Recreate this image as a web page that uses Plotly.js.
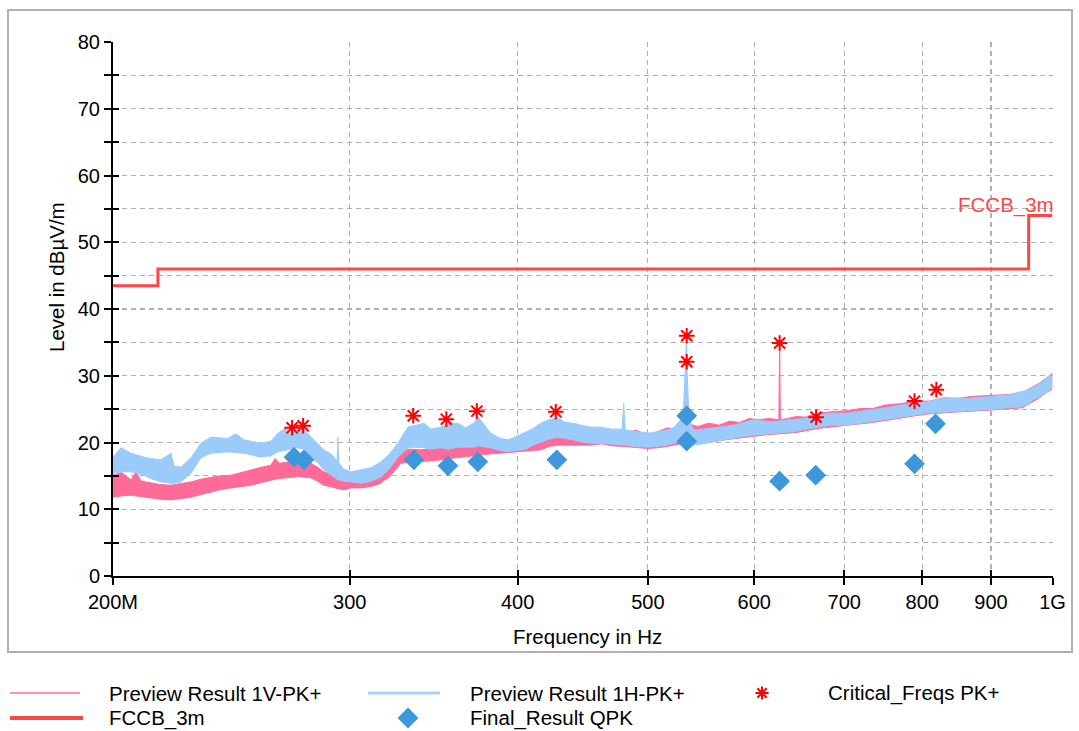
<!DOCTYPE html>
<html><head><meta charset="utf-8">
<script src="https://cdn.plot.ly/plotly-3.0.1.min.js"></script>
<style>html,body{margin:0;padding:0;background:#fff;}#chart{width:1079px;height:731px;}</style>
</head><body><div id="chart"></div>
<script>
// ---- Data (MHz, dBµV/m) ----
// Preview Result 1H-PK+ (band: upper / lower envelope)
const freqH = [200,202.8,206.3,210.9,213.4,217.1,220.9,222,224.7,228.6,232.5,236.5,243.5,246.8,250.3,257.7,262.1,265.3,268.5,271.3,272.7,277.4,280.7,284,287,291,293.6,294,294.4,297,300.6,305.8,311,316.5,321,325.8,331.4,335,340.6,345,350.7,355,361,366,371.1,374,382,388.6,393.3,398,404.2,410,416.2,422,428.5,434,440.4,445.7,453.4,461.2,470,478.5,479.7,481,490,499.9,508,517.3,523,528.9,531.5,532.8,533.9,534.3,534.8,536.2,538.5,540.8,550,559.7,569,579.2,589,599.4,610,620.2,630,641.8,653,664.2,673,683.8,704,720,736,752,770.9,789,807.3,825,844.1,863,884,905,925.9,946.7,957,968,982,996.6,1000];
const hiH   = [17.8,19.2,18.4,17.8,17.6,17.4,18.4,16.5,16.3,17.7,19.9,20.8,20.6,21.3,20.4,19.9,20.2,21.4,22.1,21.3,21.6,22.0,20.8,19.8,18.9,18.2,17.2,20.8,17.0,16.0,15.6,15.9,16.2,17.1,18.2,19.9,22.3,22.5,22.9,22.0,22.3,22.8,22.9,22.2,22.9,23.8,21.4,20.6,20.4,20.8,21.4,22.0,22.9,23.4,23.7,23.0,22.9,22.6,22.3,22.3,22.0,22.0,25.9,21.9,21.6,21.4,21.6,21.9,22.3,23.4,25.0,30.4,35.6,36.0,30.4,25.0,22.6,21.9,22.0,22.2,22.4,22.6,23.0,23.4,23.2,23.1,23.3,23.4,23.6,23.8,24.2,24.4,24.4,24.7,24.9,25.2,25.6,25.8,26.1,26.5,26.7,26.6,26.8,27.0,27.1,27.6,27.8,28.3,29.0,30.1,30.0];
const loH   = [15.4,15.6,15.6,15.1,14.6,14.1,13.9,13.9,14.1,15.4,17.7,18.4,18.6,18.5,18.4,17.8,18.0,18.6,18.8,19.0,19.3,19.0,17.8,17.0,15.9,15.0,14.5,14.4,14.4,14.2,14.1,13.9,14.2,14.8,16.0,17.8,19.2,19.3,19.2,19.0,19.2,19.0,19.3,19.3,19.3,19.5,19.2,18.8,18.6,18.8,18.9,19.5,20.1,20.5,20.8,20.6,20.4,20.1,19.9,19.9,19.8,19.6,19.6,19.6,19.4,19.3,19.4,19.6,19.9,20.4,20.5,21.0,21.0,21.0,21.0,20.5,19.8,19.6,19.8,20.1,20.4,20.7,20.9,21.1,21.2,21.4,21.5,21.6,21.9,22.2,22.4,22.6,22.6,22.9,23.1,23.4,23.8,24.1,24.4,24.5,24.6,24.8,24.9,25.0,25.2,25.3,25.6,26.4,27.0,27.9,28.2];

// Preview Result 1V-PK+ (band: upper / lower envelope)
const freqV = [200,203,206.3,208,210,213.4,217,220.9,224.7,228.6,232.5,236.5,240,244.8,250,253.3,258,262.1,264,266,271.3,275,280.7,284,287,292,297,300.6,305.8,311,316.5,318,321,327.5,333,338.9,345,350.7,356,362.9,369,375.6,382,388.6,395,402.2,409,416.2,422,428.5,434,440.4,447,453.4,462,470,480,490,500,508,517,525,535,545,555,565,575,585,595,605,615,625.8,626.6,627.4,635,645,655,665,675,690,705,720,735,750,770,790,810,830,850,870,890,910,930,950,965,980,990,1000];
const hiV   = [15.1,15.5,14.4,15.6,14.2,13.9,13.7,13.6,13.8,14.1,14.5,14.8,15.0,15.1,15.6,15.9,16.3,16.6,17.6,16.9,17.1,17.0,16.9,16.3,15.6,15.1,14.7,14.4,14.7,15.1,15.6,17.0,16.6,18.9,19.0,18.9,19.0,19.3,19.6,19.9,19.8,19.9,19.5,19.2,19.2,19.4,19.6,19.9,20.6,21.1,20.8,20.6,20.4,20.4,21.0,21.6,21.5,21.8,21.2,21.6,22.2,22.0,22.8,22.4,22.9,22.6,23.2,23.0,23.6,23.4,23.6,23.4,34.9,23.4,23.6,23.9,23.8,24.3,24.5,24.6,24.8,25.1,25.1,25.6,25.8,26.2,26.2,26.7,26.6,26.9,27.0,27.0,27.2,27.5,28.2,29.0,29.7,30.4];
const loV   = [11.8,12.0,12.1,12.0,11.9,11.7,11.5,11.4,11.6,11.8,12.2,12.6,12.9,13.2,13.4,13.6,14.0,14.4,14.5,14.6,14.8,14.9,14.7,14.2,13.6,13.2,12.9,13.2,13.2,13.4,13.9,14.3,14.8,16.9,17.0,17.1,17.2,17.4,17.6,17.8,18.0,18.1,18.3,18.4,18.5,18.6,18.8,18.9,19.4,19.6,19.6,19.6,19.6,19.6,19.8,19.5,19.4,19.2,19.1,19.2,19.4,19.7,19.9,19.9,20.0,20.3,20.5,20.7,20.9,21.0,21.2,21.3,21.3,21.3,21.4,21.5,21.8,22.0,22.2,22.4,22.5,22.8,23.0,23.3,23.6,24.0,24.3,24.4,24.5,24.7,24.8,24.9,25.1,25.2,26.0,26.8,27.5,28.0];

// FCCB_3m limit line
const limitFreq  = [200,216,216,960,960,1000];
const limitLevel = [43.5,43.5,46,46,54,54];

// Critical_Freqs PK+
const critFreq  = [271.8,277.0,334.5,354.0,373.0,427.0,534.4,534.4,626.6,667.0,789.5,819.5];
const critLevel = [22.2,22.5,24.0,23.5,24.7,24.6,36.0,32.1,34.9,23.8,26.2,27.9];

// Final_Result QPK
const qpkFreq  = [272.7,277.4,334.9,355.0,373.6,427.8,534.4,534.4,626.6,666.5,789.5,818.4];
const qpkLevel = [17.8,17.4,17.4,16.5,17.1,17.4,24.0,20.2,14.2,15.1,16.8,22.8];

const xTickVals = [200,300,400,500,600,700,800,900,1000];
const xTickText = ['200M','300','400','500','600','700','800','900','1G'];
const yTickVals = [0,5,10,15,20,25,30,35,40,45,50,55,60,65,70,75,80];
const yTickText = ['0','','10','','20','','30','','40','','50','','60','','70','','80'];

const legendLabels = ['Preview Result 1V-PK+','Preview Result 1H-PK+','Critical_Freqs PK+','FCCB_3m','Final_Result QPK'];

// ---- Styles ----
const W = 1079, H = 731;
const PINK = '#ff6b98', BLUE = '#9acbfb', LIMIT = '#ff4646', STAR = '#ff0000', DIAM = '#3d97db';
const FONT = 'Liberation Sans, Arial, sans-serif';
const px = v => v / W, py = v => 1 - v / H;
const TXT = 20.5, TICK = 20;

const traces = [
  {x: freqV, y: loV, mode:'lines', line:{color:PINK, width:1}, showlegend:false, hoverinfo:'skip'},
  {x: freqV, y: hiV, mode:'lines', line:{color:PINK, width:1}, fill:'tonexty', fillcolor:PINK, showlegend:false, hoverinfo:'skip'},
  {x: freqH, y: loH, mode:'lines', line:{color:BLUE, width:1}, showlegend:false, hoverinfo:'skip'},
  {x: freqH, y: hiH, mode:'lines', line:{color:BLUE, width:1}, fill:'tonexty', fillcolor:BLUE, showlegend:false, hoverinfo:'skip'},
  {x: limitFreq, y: limitLevel, mode:'lines', line:{color:LIMIT, width:3}, showlegend:false},
  {x: qpkFreq, y: qpkLevel, mode:'markers', marker:{symbol:'diamond', size:16, color:DIAM}, showlegend:false, cliponaxis:false},
  {x: critFreq, y: critLevel, mode:'markers', marker:{symbol:'asterisk-open', size:13, color:STAR, line:{color:STAR, width:2}}, showlegend:false, cliponaxis:false},
  // dummy trace to activate tick overlay axes
  {x:[500], y:[-50], xaxis:'x3', yaxis:'y3', mode:'markers', marker:{opacity:0}, showlegend:false, hoverinfo:'skip'},
  // legend symbols in pixel space
  {x:[762], y:[693], xaxis:'x2', yaxis:'y2', mode:'markers', marker:{symbol:'asterisk-open', size:11, color:STAR, line:{color:STAR, width:2}}, showlegend:false, cliponaxis:false, hoverinfo:'skip'},
  {x:[408], y:[718], xaxis:'x2', yaxis:'y2', mode:'markers', marker:{symbol:'diamond', size:16, color:DIAM}, showlegend:false, cliponaxis:false, hoverinfo:'skip'}
];

const xDom = [113/W, 1052.5/W];
const yDom = [(H-576)/H, (H-42)/H];
const GRID = '#b0b0b0';

const layout = {
  width: W, height: H,
  margin: {l:0, r:0, t:0, b:0},
  paper_bgcolor:'#ffffff', plot_bgcolor:'rgba(0,0,0,0)',
  showlegend:false,
  font:{family:FONT, size:TXT, color:'#000'},
  xaxis: {
    type:'log', domain:xDom, range:[Math.log10(200), 3], anchor:'y',
    tickvals:xTickVals, ticktext:xTickText, ticks:'outside', ticklen:7, tickwidth:2, tickcolor:'#000',
    showline:true, linecolor:'#000', linewidth:2, zeroline:false,
    showgrid:true, gridcolor:GRID, gridwidth:1.2, griddash:'5px,4px',
    tickfont:{family:FONT, size:TICK, color:'#000'}, fixedrange:true
  },
  yaxis: {
    domain:yDom, range:[0,80], anchor:'x',
    tickvals:yTickVals, ticktext:yTickText, ticks:'outside', ticklen:7, tickwidth:2, tickcolor:'#000',
    showline:true, linecolor:'#000', linewidth:2, zeroline:false,
    showgrid:true, gridcolor:GRID, gridwidth:1.2, griddash:'5px,4px',
    tickfont:{family:FONT, size:TICK, color:'#000'}, fixedrange:true
  },
  xaxis3: {type:'log', overlaying:'x', anchor:'y', range:[Math.log10(200),3], tickvals:xTickVals,
    ticks:'inside', ticklen:6, tickwidth:2, tickcolor:'#000', showticklabels:false, showgrid:false, showline:false, zeroline:false},
  yaxis3: {overlaying:'y', anchor:'x', range:[0,80], tickvals:yTickVals,
    ticks:'inside', ticklen:6, tickwidth:2, tickcolor:'#000', showticklabels:false, showgrid:false, showline:false, zeroline:false},
  xaxis2: {domain:[0,1], range:[0,W], anchor:'y2', visible:false, fixedrange:true},
  yaxis2: {domain:[0,1], range:[H,0], anchor:'x2', visible:false, fixedrange:true},
  shapes: [
    {type:'rect', xref:'paper', yref:'paper', x0:px(8), x1:px(1072), y0:py(10), y1:py(652), line:{color:'#b0b0b0', width:2}, layer:'below'},
    {type:'line', xref:'paper', yref:'paper', x0:px(10), x1:px(80), y0:py(693), y1:py(693), line:{color:'#ff8fb0', width:2}},
    {type:'line', xref:'paper', yref:'paper', x0:px(368), x1:px(440), y0:py(693), y1:py(693), line:{color:'#a8d2ff', width:3}},
    {type:'line', xref:'paper', yref:'paper', x0:px(10), x1:px(83), y0:py(718), y1:py(718), line:{color:LIMIT, width:4}}
  ],
  annotations: [
    {text:'Frequency in Hz', xref:'paper', yref:'paper', x:px(587), y:py(636), showarrow:false, xanchor:'center', yanchor:'middle', font:{family:FONT, size:TXT, color:'#000'}},
    {text:'Level in dBµV/m', xref:'paper', yref:'paper', x:px(56), y:py(277), showarrow:false, textangle:-90, xanchor:'center', yanchor:'middle', font:{family:FONT, size:TXT, color:'#000'}},
    {text:'FCCB_3m', xref:'paper', yref:'paper', x:px(1056), y:py(205), showarrow:false, xanchor:'right', yanchor:'middle', font:{family:FONT, size:TXT, color:LIMIT}},
    {text:legendLabels[0], xref:'paper', yref:'paper', x:px(107), y:py(693), showarrow:false, xanchor:'left', yanchor:'middle', font:{family:FONT, size:TXT, color:'#000'}},
    {text:legendLabels[1], xref:'paper', yref:'paper', x:px(468), y:py(693), showarrow:false, xanchor:'left', yanchor:'middle', font:{family:FONT, size:TXT, color:'#000'}},
    {text:legendLabels[2], xref:'paper', yref:'paper', x:px(826), y:py(693), showarrow:false, xanchor:'left', yanchor:'middle', font:{family:FONT, size:TXT, color:'#000'}},
    {text:legendLabels[3], xref:'paper', yref:'paper', x:px(107), y:py(718), showarrow:false, xanchor:'left', yanchor:'middle', font:{family:FONT, size:TXT, color:'#000'}},
    {text:legendLabels[4], xref:'paper', yref:'paper', x:px(468), y:py(718), showarrow:false, xanchor:'left', yanchor:'middle', font:{family:FONT, size:TXT, color:'#000'}}
  ]
};

Plotly.newPlot('chart', traces, layout, {staticPlot:true, displayModeBar:false});
</script>
</body></html>
